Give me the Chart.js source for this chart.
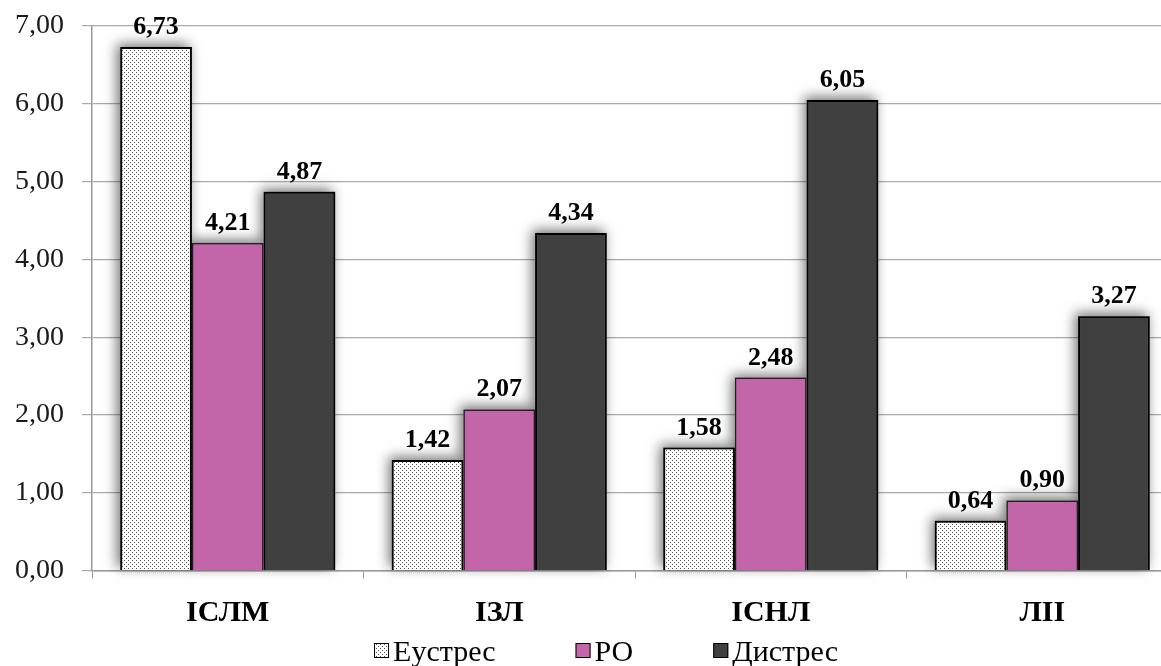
<!DOCTYPE html>
<html>
<head>
<meta charset="utf-8">
<script src="https://cdn.jsdelivr.net/npm/chart.js@4.4.1/dist/chart.umd.min.js"></script>
<style>
  html, body { margin: 0; padding: 0; background: #fff; overflow: hidden; }
  #wrap { width: 1190px; height: 666px; position: relative; }
</style>
</head>
<body>
<div id="wrap"><canvas id="chart"></canvas></div>
<script>
// data
const categories = ["ІСЛМ", "ІЗЛ", "ІСНЛ", "ЛІІ"];
const seriesNames = ["Еустрес", "РО", "Дистрес"];
const eustres = [6.73, 1.42, 1.58, 0.64];
const ro = [4.21, 2.07, 2.48, 0.90];
const distres = [4.87, 4.34, 6.05, 3.27];
const yTicks = [0, 1, 2, 3, 4, 5, 6, 7];

const SERIF = "'Liberation Serif', serif";
Chart.defaults.font.family = SERIF;

const fmt = (v) => v.toFixed(2).replace(".", ",");

// dotted fill for the first series
function dotPattern(ctx) {
  let c = document.createElement("canvas");
  c.width = 4;
  c.height = 4;
  let g = c.getContext("2d");
  g.fillStyle = "#ffffff";
  g.fillRect(0, 0, 4, 4);
  g.fillStyle = "#555";
  g.fillRect(0, 0, 1, 1);
  g.fillRect(2, 2, 1, 1);
  return ctx.createPattern(c, "repeat");
}

let ctx = document.getElementById("chart").getContext("2d");
const dots = dotPattern(ctx);

// soft shadow behind the bars (top-left), drawn before the bars themselves
const barShadow = {
  id: "barShadow",
  beforeDatasetsDraw(chart) {
    let c = chart.ctx;
    c.save();
    c.shadowColor = "rgba(0,0,0,0.55)";
    c.shadowBlur = 12;
    c.shadowOffsetX = -3;
    c.shadowOffsetY = -3;
    c.fillStyle = "#777";
    chart.data.datasets.forEach((ds, i) => {
      chart.getDatasetMeta(i).data.forEach((bar) => {
        let p = bar.getProps(["x", "y", "base", "width"], true);
        c.fillRect(p.x - p.width / 2, p.y, p.width, p.base - p.y);
      });
    });
    c.restore();
  },
};

// value labels above each bar
const valueLabels = {
  id: "valueLabels",
  afterDatasetsDraw(chart) {
    let c = chart.ctx;
    c.save();
    c.font = "bold 26px " + SERIF;
    c.fillStyle = "#000";
    c.textAlign = "center";
    c.textBaseline = "alphabetic";
    chart.data.datasets.forEach((ds, i) => {
      chart.getDatasetMeta(i).data.forEach((bar, j) => {
        c.fillText(fmt(ds.data[j]), bar.x, bar.y - 13);
      });
    });
    c.restore();
  },
};

// legend row under the axis: small square + name, wide gaps
const bottomLegend = {
  id: "bottomLegend",
  afterDraw(chart) {
    let c = chart.ctx;
    let box = 15, gap = 4, spacing = 80;
    c.save();
    c.font = "30px " + SERIF;
    c.textBaseline = "alphabetic";
    c.textAlign = "left";
    let items = chart.data.datasets.map((ds) => ({
      ds,
      w: box + gap + c.measureText(ds.label).width,
    }));
    let total = items.reduce((s, it) => s + it.w, 0) + spacing * (items.length - 1);
    let x = 606 - total / 2;
    items.forEach((it) => {
      c.fillStyle = it.ds.backgroundColor;
      c.fillRect(x, 643, box, box);
      c.strokeStyle = "#000";
      c.lineWidth = 1;
      c.strokeRect(x + 0.5, 643.5, box - 1, box - 1);
      c.fillStyle = "#000";
      c.fillText(it.ds.label, x + box + gap, 661);
      x += it.w + spacing;
    });
    c.restore();
  },
};

new Chart(ctx, {
  type: "bar",
  data: {
    labels: categories,
    datasets: [
      {
        label: seriesNames[0],
        data: eustres,
        backgroundColor: dots,
        borderColor: "#000",
        borderWidth: 2,
      },
      {
        label: seriesNames[1],
        data: ro,
        backgroundColor: "#c265a9",
        borderColor: "#2a1a26",
        borderWidth: 1.5,
      },
      {
        label: seriesNames[2],
        data: distres,
        backgroundColor: "#404040",
        borderColor: "#000",
        borderWidth: 2,
      },
    ],
  },
  options: {
    responsive: true,
    maintainAspectRatio: false,
    animation: false,
    layout: { padding: { top: 26, right: 12, bottom: 33.5, left: 0 } },
    datasets: {
      bar: { barPercentage: 1, categoryPercentage: 0.792 },
    },
    plugins: {
      tooltip: { enabled: false },
      legend: { display: false },
    },
    scales: {
      x: {
        offset: true,
        grid: {
          offset: true,
          drawOnChartArea: false,
          drawTicks: true,
          tickLength: 8,
          color: "#999",
        },
        border: { color: "#999", width: 1.5 },
        ticks: {
          font: { size: 30, weight: "bold" },
          color: "#000",
          padding: 17,
        },
        afterFit(scale) {
          scale.height = 62;
        },
      },
      y: {
        min: 0,
        max: 7,
        afterBuildTicks(scale) {
          scale.ticks = yTicks.map((v) => ({ value: v }));
        },
        grid: {
          color: "#aaa",
          lineWidth: 1.2,
          tickLength: 10,
        },
        border: { color: "#999", width: 1.5 },
        ticks: {
          font: { size: 28 },
          color: "#1a1a1a",
          padding: 18,
          callback: (v) => fmt(v),
        },
        afterFit(scale) {
          scale.width = 92;
          scale.paddingTop = 0;
          scale.paddingBottom = 0;
        },
      },
    },
  },
  plugins: [barShadow, valueLabels, bottomLegend],
});
</script>
</body>
</html>
